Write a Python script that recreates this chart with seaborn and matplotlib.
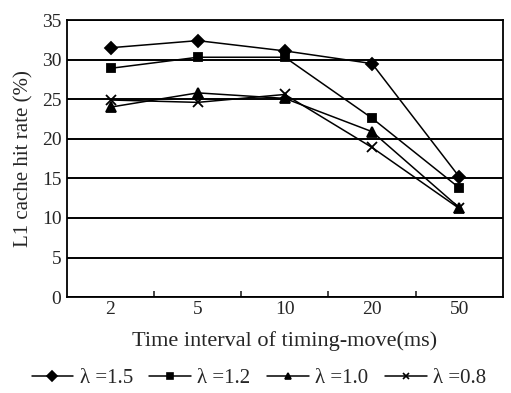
import matplotlib
matplotlib.use('Agg')
import matplotlib.pyplot as plt
import seaborn as sns
import pandas as pd
from matplotlib.lines import Line2D
from matplotlib.ticker import FixedLocator

intervals = ['2', '5', '10', '20', '50']
labels = ['λ =1.5', 'λ =1.2', 'λ =1.0', 'λ =0.8']
hit_15 = [31.5, 32.4, 31.1, 29.5, 15.2]
hit_12 = [28.9, 30.3, 30.3, 22.6, 13.8]
hit_10 = [24.0, 25.8, 25.1, 20.9, 11.3]
hit_08 = [24.9, 24.6, 25.6, 18.9, 11.2]

sns.set_style('white')
plt.rcParams['font.family'] = ['Liberation Serif', 'DejaVu Serif']

fig = plt.figure(figsize=(5.11, 3.93), dpi=100)
ax = fig.add_axes([0.131, 0.244, 0.853, 0.705])

markers = ['D', 's', '^', 'x']
msizes = [6.5, 5.5, 7, 7]
for lab, vals, m, ms in zip(labels, [hit_15, hit_12, hit_10, hit_08], markers, msizes):
    d = pd.DataFrame({'interval': intervals, 'rate': vals})
    sns.lineplot(data=d, x='interval', y='rate', color='black', marker=m,
                 markersize=ms, linewidth=1.1, markeredgewidth=1.3,
                 markeredgecolor='black', markerfacecolor='black',
                 legend=False, ax=ax)

ax.set_xlim(-0.5, 4.5)
ax.set_ylim(0, 35)
ax.set_yticks(range(0, 36, 5))
ax.yaxis.grid(True, color='black', linewidth=1.4)
ax.xaxis.grid(False)
for s in ax.spines.values():
    s.set_color('black')
    s.set_linewidth(1.3)
ax.tick_params(axis='x', which='major', length=0, labelsize=14, pad=3)
ax.tick_params(axis='y', which='major', length=0, labelsize=14, pad=4)
ax.xaxis.set_minor_locator(FixedLocator([0.5, 1.5, 2.5, 3.5]))
ax.tick_params(axis='x', which='minor', direction='in', length=4, width=1.2, bottom=True)
ax.set_xlabel('Time interval of timing-move(ms)', fontsize=16, labelpad=9)
ax.set_ylabel('L1 cache hit rate (%)', fontsize=15, labelpad=6)

handles = [Line2D([], [], color='black', marker=m, markersize=5, linewidth=1.1,
                  markeredgewidth=1.2) for m in markers]
ax.legend(handles, labels, loc='upper center', bbox_to_anchor=(0.44, -0.22),
          ncol=4, frameon=False, fontsize=15, handlelength=2.0,
          handletextpad=0.3, columnspacing=0.8, borderpad=0)

fig.savefig('out.png', dpi=100)
